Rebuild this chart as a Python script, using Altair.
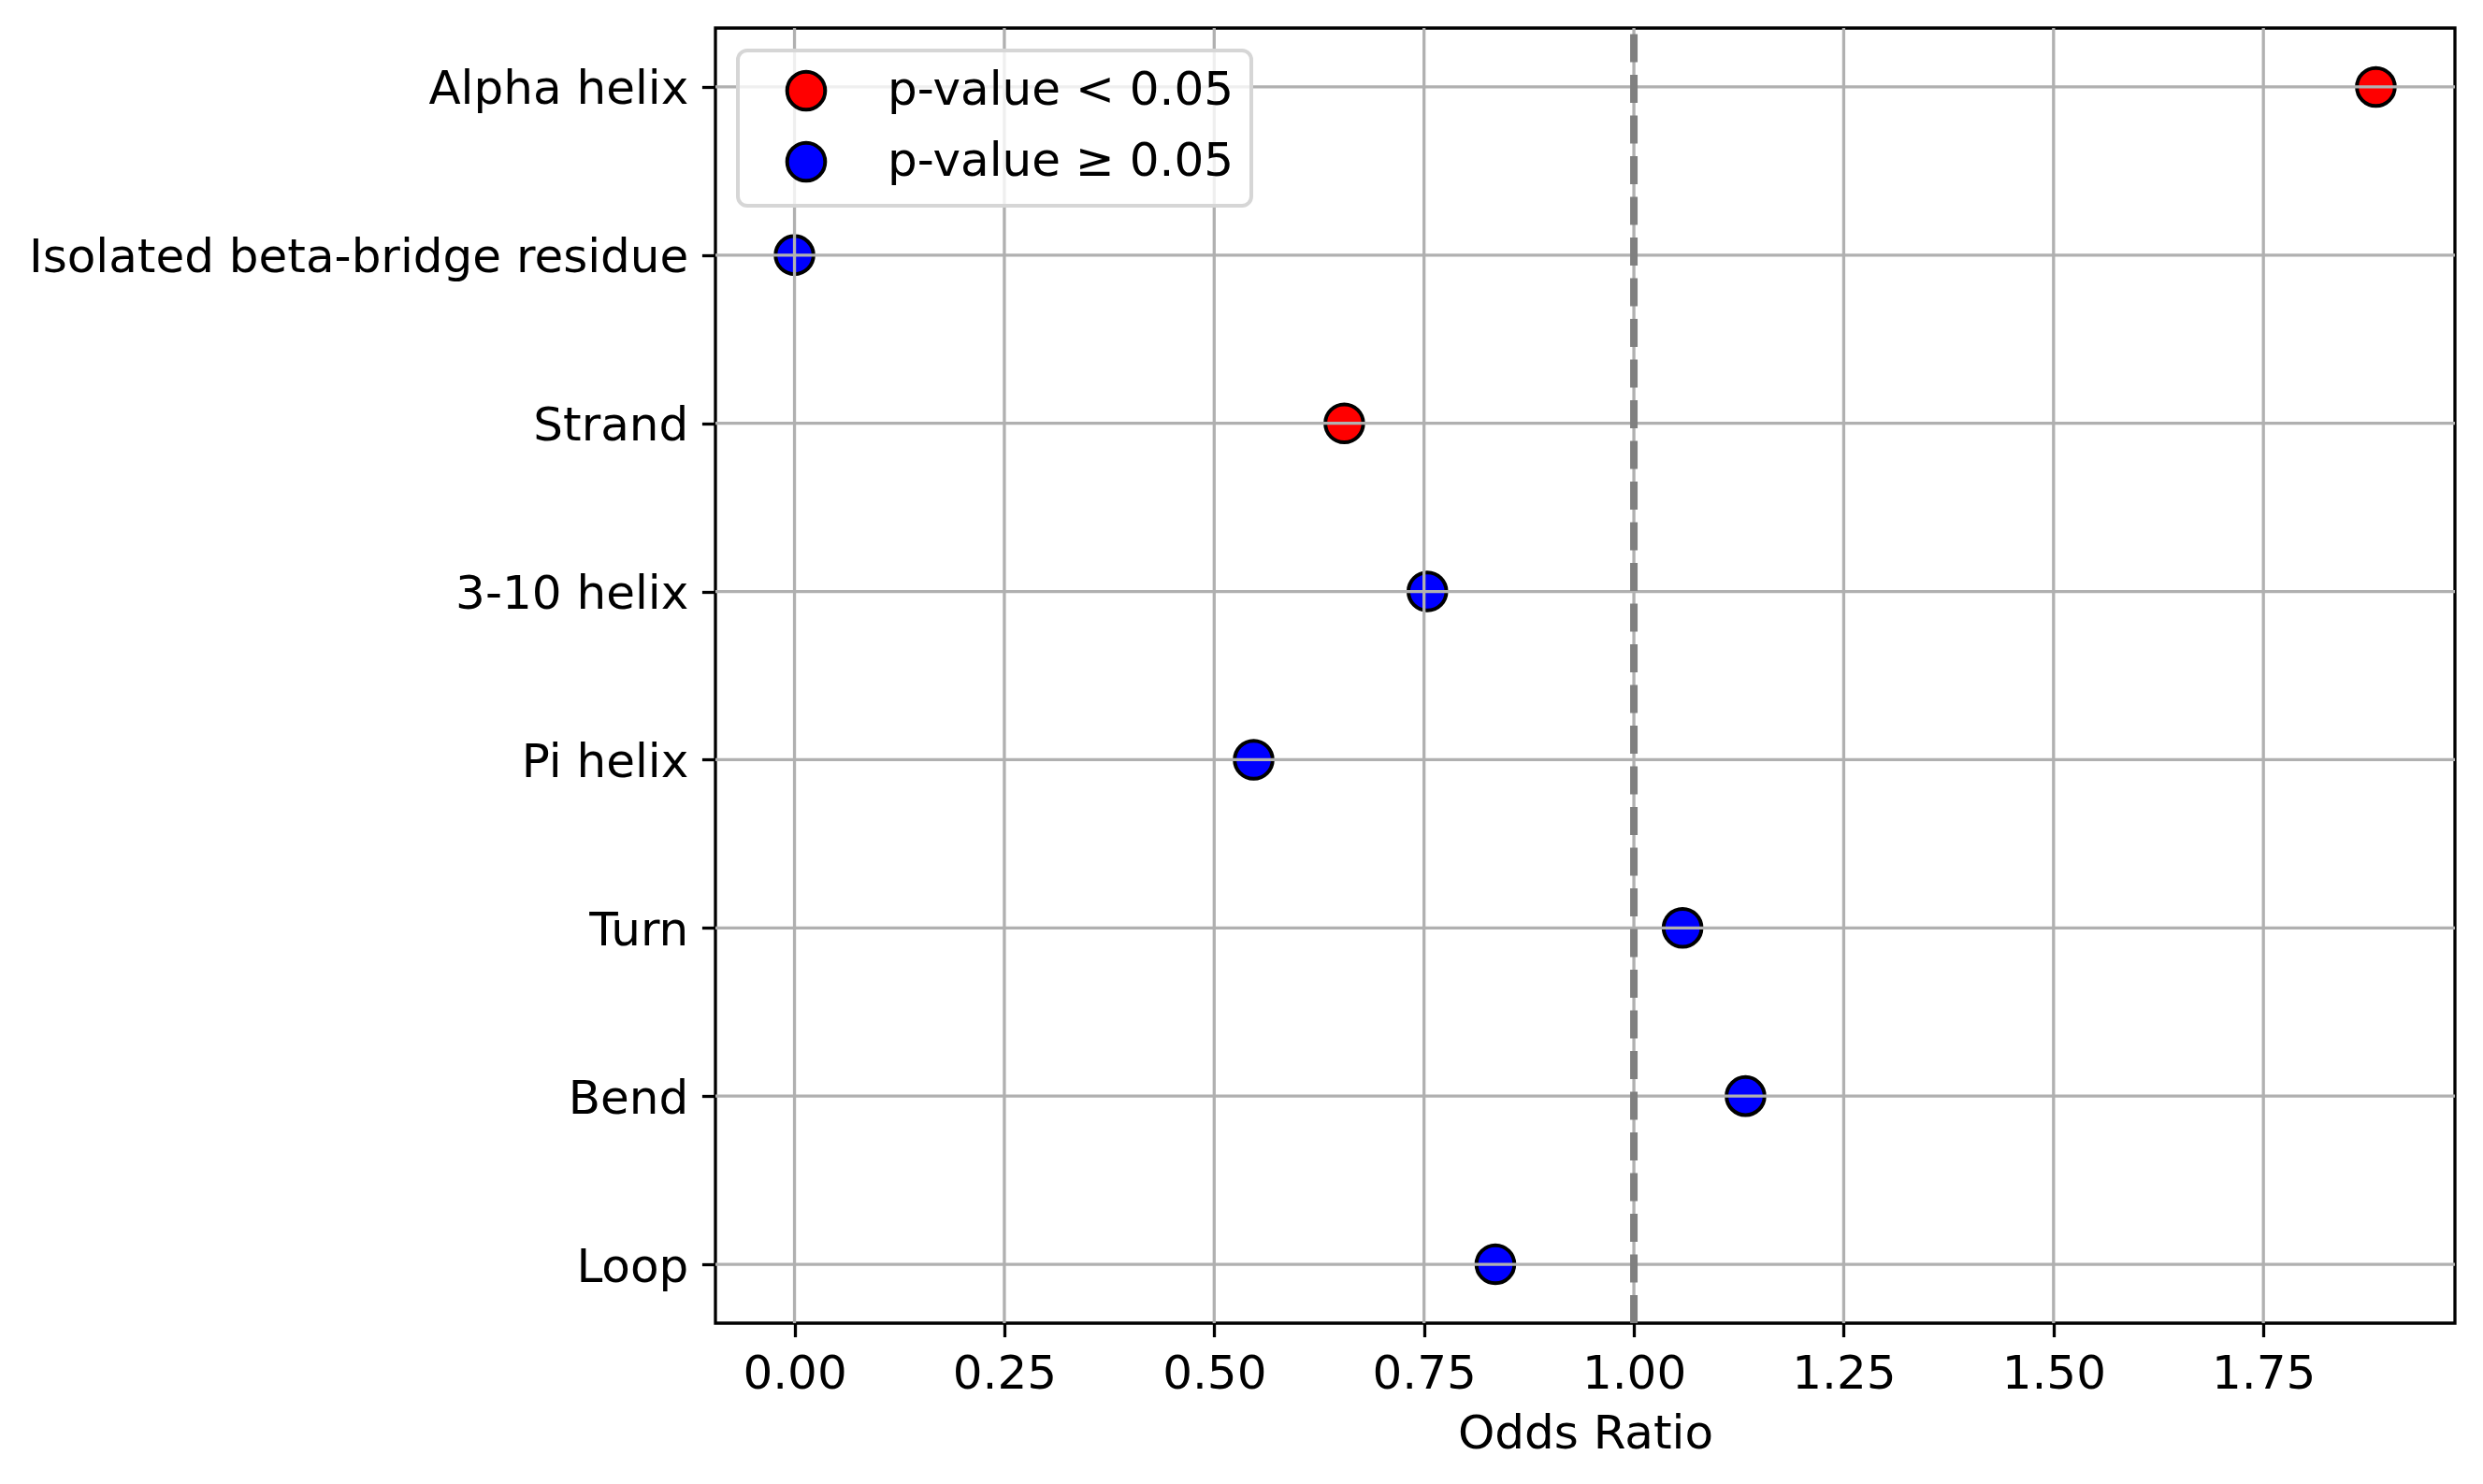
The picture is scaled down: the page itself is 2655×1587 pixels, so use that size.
import altair as alt
import pandas as pd

# ---- data ----
categories = ["Alpha helix", "Isolated beta-bridge residue", "Strand", "3-10 helix",
              "Pi helix", "Turn", "Bend", "Loop"]
odds_ratio = [1.884, 0.0, 0.655, 0.754, 0.547, 1.058, 1.133, 0.835]
significance = ["p-value < 0.05", "p-value \u2265 0.05", "p-value < 0.05", "p-value \u2265 0.05",
                "p-value \u2265 0.05", "p-value \u2265 0.05", "p-value \u2265 0.05", "p-value \u2265 0.05"]
legend_labels = ["p-value < 0.05", "p-value \u2265 0.05"]
legend_colors = ["red", "blue"]
x_ticks = [0.0, 0.25, 0.5, 0.75, 1.0, 1.25, 1.5, 1.75]
reference_value = [1.0]

df = pd.DataFrame({"category": categories, "odds": odds_ratio, "sig": significance})
ticks_df = pd.DataFrame({"t": x_ticks})
ref_df = pd.DataFrame({"r": reference_value})

# matplotlib-like 5% margins
lo, hi = min(odds_ratio), max(odds_ratio)
span = hi - lo
x_domain = [lo - 0.05 * span, hi + 0.05 * span]

W, H = 1860, 1385
FS = 50
LW = 3.3
MSIZE = 1650

x_scale = alt.Scale(domain=x_domain, nice=False, zero=False)
y_scale = alt.Scale(type="point", padding=0.35, domain=categories)

x_axis = alt.Axis(values=x_ticks, format=".2f", title="Odds Ratio", grid=False,
                  domain=False, tickColor="black", tickWidth=LW, tickSize=14.6,
                  labelPadding=14.6, labelFontSize=FS, titleFontSize=FS,
                  titleFontWeight="normal", labelColor="black", titleColor="black",
                  titlePadding=14, labelFlush=False)
y_axis = alt.Axis(title=None, grid=False, domain=False, tickColor="black",
                  tickWidth=LW, tickSize=14.6, labelPadding=14.6, labelFontSize=FS,
                  labelColor="black", labelLimit=2000, labelOffset=3)

points = alt.Chart(df).mark_point(
    shape="circle", filled=True, size=MSIZE, stroke="black", strokeWidth=4, opacity=1
).encode(
    x=alt.X("odds:Q", scale=x_scale, axis=x_axis),
    y=alt.Y("category:N", scale=y_scale, axis=y_axis, sort=categories),
    fill=alt.Fill("sig:N", scale=alt.Scale(domain=legend_labels, range=legend_colors),
                  legend=alt.Legend(title=None, orient="top-left")),
)

vgrid = alt.Chart(ticks_df).mark_rule(color="#b0b0b0", strokeWidth=LW).encode(
    x=alt.X("t:Q", scale=x_scale)
)

hgrid = alt.Chart(df).mark_rule(color="#b0b0b0", strokeWidth=LW).encode(
    y=alt.Y("category:N", scale=y_scale, sort=categories)
)

ref = alt.Chart(ref_df).mark_rule(color="#808080", strokeWidth=8, strokeDash=[30, 13.5]).encode(
    x=alt.X("r:Q", scale=x_scale),
    y=alt.value(H),
    y2=alt.value(0),
)

chart = alt.layer(points, vgrid, hgrid, ref).properties(
    width=W, height=H,
    autosize=alt.AutoSizeParams(type="none"),
    padding={"left": 757, "top": 22, "right": 20, "bottom": 150},
).configure(
    font="DejaVu Sans",
).configure_view(
    stroke="black", strokeWidth=LW,
).configure_legend(
    offset=24, padding=18, fillColor="rgba(255,255,255,0.8)",
    strokeColor="#d6d6d6", strokeWidth=4, cornerRadius=10,
    labelFontSize=FS, labelColor="black",
    symbolType="circle", symbolSize=MSIZE,
    symbolStrokeColor="black", symbolStrokeWidth=4,
    symbolOffset=30, labelOffset=62, rowPadding=18, labelLimit=2000,
)

chart.save("out.html", embed_options={"renderer": "svg", "actions": False})
